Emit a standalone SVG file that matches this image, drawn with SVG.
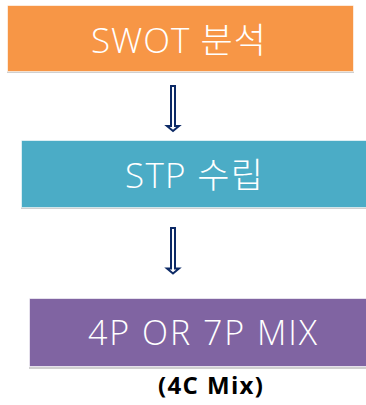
<svg xmlns="http://www.w3.org/2000/svg" width="366" height="405" viewBox="0 0 366 405">
<style>
.box{stroke:#ffffff;stroke-opacity:0.6;stroke-width:1}
.shadow{fill:#d0d0d0}
.lbl{font-family:"Open Sans","Noto Sans CJK KR",sans-serif;font-weight:300;fill:#ffffff}
.sub{font-family:"Open Sans","Noto Sans CJK KR",sans-serif;font-weight:700;fill:#000000;font-size:24px}
.arrow{fill:#ffffff;stroke:#0d2a66;stroke-width:2;stroke-linejoin:miter}
</style>
<rect width="366" height="405" fill="#ffffff"/>
<g id="node-swot">
<rect class="shadow" x="7" y="71" width="347" height="2"/>
<rect class="box" x="7.5" y="5.5" width="346" height="66" fill="#F79646"/>
<text class="lbl" x="91" y="53" font-size="35" textLength="175" lengthAdjust="spacing">SWOT 분석</text>
</g>
<g id="node-stp">
<rect class="shadow" x="21" y="207" width="345" height="2"/>
<rect class="box" x="21.5" y="140.5" width="346" height="67" fill="#4BACC6"/>
<text class="lbl" x="125" y="188" font-size="35" textLength="138" lengthAdjust="spacing">STP 수립</text>
</g>
<g id="node-mix">
<rect class="shadow" x="29" y="367" width="337" height="2"/>
<rect class="box" x="29.5" y="298.5" width="346" height="68" fill="#8064A2"/>
<text class="lbl" x="88" y="345" font-size="34" textLength="229" lengthAdjust="spacing">4P OR 7P MIX</text>
</g>
<g id="note">
<text class="sub" x="158" y="394" textLength="105" lengthAdjust="spacing">(4C Mix)</text>
</g>
<g id="connectors">
<path class="arrow" d="M171,86 H175 V126 H179 L173,131 L167,126 H171 Z"/>
<path class="arrow" d="M171,228 H175 V268.5 H179 L173,273.5 L167,268.5 H171 Z"/>
</g>
</svg>
